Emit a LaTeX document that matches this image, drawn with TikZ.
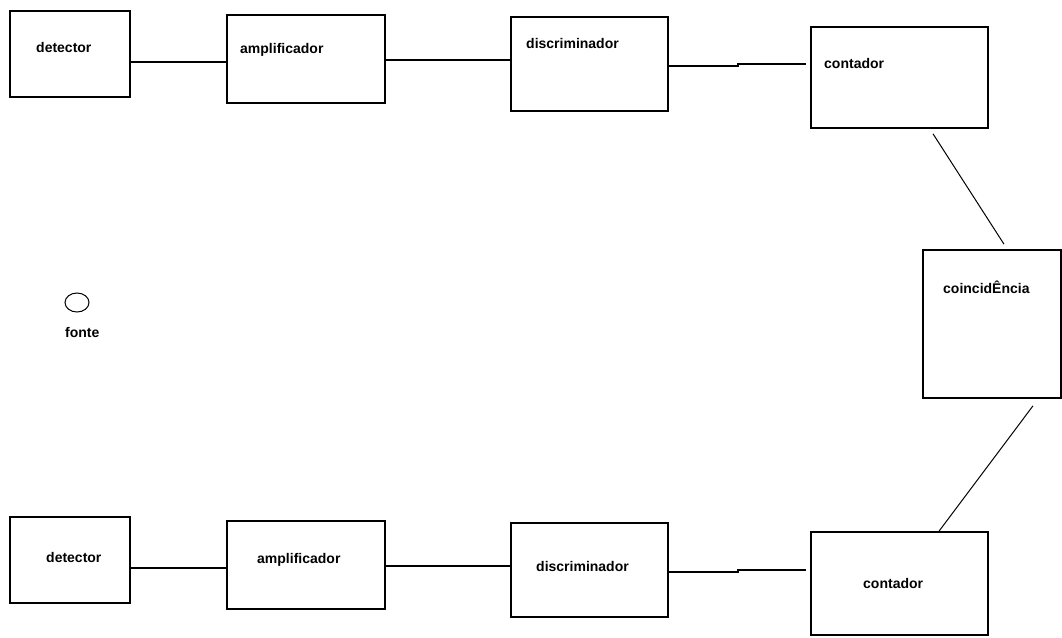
\documentclass[tikz,border=0pt]{standalone}
\usepackage{fontspec}
\setmainfont{Liberation Sans}
\usepackage{tikz}
\usetikzlibrary{shapes.geometric}
\usetikzlibrary{positioning}
\usetikzlibrary{%
  calc%
}

\begin{document}
\begin{tikzpicture}[x=1pt, y=-1pt,
  caixa/.style={draw, line width=1.6pt, inner sep=0pt},
  rotulo/.style={anchor=west, inner sep=0pt, font=\bfseries\fontsize{14}{16}\selectfont},
  fio/.style={line width=1.3pt},
  fino/.style={line width=1pt}]
\useasboundingbox[fill=white] (0,0) rectangle (1062,637);

% linha de cima
\node[caixa, minimum width=120pt, minimum height=86pt]  (det1)  at (70,54)    {};
\node[caixa, minimum width=158pt, minimum height=88pt]  (amp1)  at (306,59)   {};
\node[caixa, minimum width=157pt, minimum height=94pt]  (disc1) at (589.5,64) {};
\node[caixa, minimum width=177pt, minimum height=101pt] (cont1) at (899.5,77.5) {};
\node[rotulo] (tdet1)  at (36,47)  {detector};
\node[rotulo] (tamp1)  at (240,50) {amplificador};
\node[rotulo] (tdisc1) at (526,43) {discriminador};
\node[rotulo] (tcont1) at (824,63) {contador};

% coincidencia e fonte
\node[caixa, minimum width=138pt, minimum height=148pt] (coin) at (992,324) {};
\node[rotulo] (tcoin) at (943,287) {coincidÊncia};
\node[draw, fino, ellipse, minimum width=24pt, minimum height=19pt, inner sep=0pt] (fonte) at (77,302.5) {};
\node[rotulo] (tfonte) at (65,332) {fonte};

% linha de baixo
\node[caixa, minimum width=120pt, minimum height=86pt]  (det2)  at (70,560)    {};
\node[caixa, minimum width=158pt, minimum height=88pt]  (amp2)  at (306,565)   {};
\node[caixa, minimum width=157pt, minimum height=94pt]  (disc2) at (589.5,570) {};
\node[caixa, minimum width=177pt, minimum height=103pt] (cont2) at (899.5,583.5) {};
\node[rotulo] (tdet2)  at (46,557)  {detector};
\node[rotulo] (tamp2)  at (257,560) {amplificador};
\node[rotulo] (tdisc2) at (536,566) {discriminador};
\node[rotulo] (tcont2) at (863,583) {contador};

\draw[fio] (det1.east |- 0,62) -- (amp1.west |- 0,62);
\draw[fio] (amp1.east |- 0,60) -- (disc1.west |- 0,60);
\draw[fio] (disc1.east |- 0,66) -- (738,66) -- (738,64) -- ($(cont1.west |- 0,64)+(-4,0)$);
\draw[fio] (det2.east |- 0,568) -- (amp2.west |- 0,568);
\draw[fio] (amp2.east |- 0,566) -- (disc2.west |- 0,566);
\draw[fio] (disc2.east |- 0,572) -- (738,572) -- (738,570) -- ($(cont2.west |- 0,570)+(-4,0)$);

\draw[fino] ($(cont1.south)+(33.5,5)$) -- ($(coin.north)+(12,-5)$);
\draw[fino] ($(coin.south)+(41,7)$) -- ($(cont2.north)+(39.5,0)$);

\end{tikzpicture}
\end{document}
